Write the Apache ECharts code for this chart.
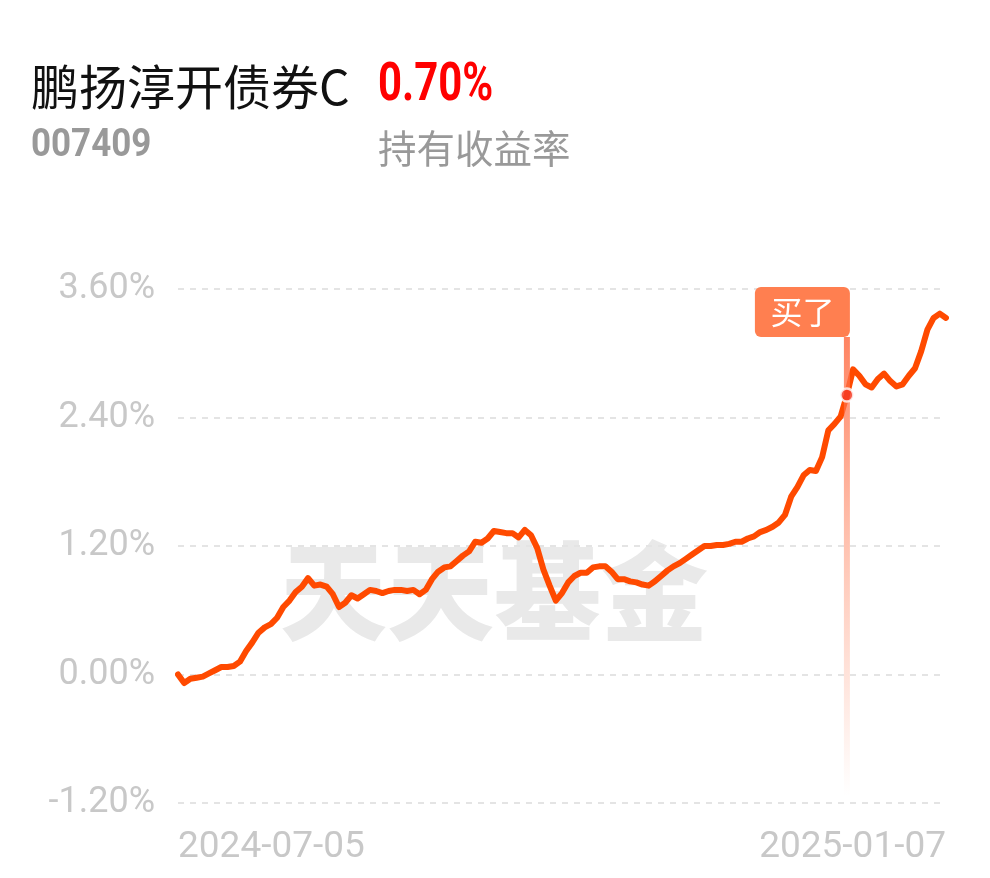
<!DOCTYPE html>
<html><head><meta charset="utf-8">
<script src="https://cdn.jsdelivr.net/npm/echarts@6/dist/echarts.min.js"></script>
<style>html,body{margin:0;padding:0;background:#fff;}#c{width:990px;height:878px;}</style>
</head><body><div id="c"></div>
<script>
const dates = [
 '2024-07-05','2024-07-08','2024-07-09','2024-07-10','2024-07-11','2024-07-12','2024-07-15','2024-07-16','2024-07-17','2024-07-18','2024-07-19','2024-07-22','2024-07-23','2024-07-24','2024-07-25','2024-07-26','2024-07-29','2024-07-30','2024-07-31',
 '2024-08-01','2024-08-02','2024-08-05','2024-08-06','2024-08-07','2024-08-08','2024-08-09','2024-08-12','2024-08-13','2024-08-14','2024-08-15','2024-08-16','2024-08-19','2024-08-20','2024-08-21','2024-08-22','2024-08-23','2024-08-26','2024-08-27','2024-08-28','2024-08-29','2024-08-30',
 '2024-09-02','2024-09-03','2024-09-04','2024-09-05','2024-09-06','2024-09-09','2024-09-10','2024-09-11','2024-09-12','2024-09-13','2024-09-18','2024-09-19','2024-09-20','2024-09-23','2024-09-24','2024-09-25','2024-09-26','2024-09-27','2024-09-30',
 '2024-10-08','2024-10-09','2024-10-10','2024-10-11','2024-10-14','2024-10-15','2024-10-16','2024-10-17','2024-10-18','2024-10-21','2024-10-22','2024-10-23','2024-10-24','2024-10-25','2024-10-28','2024-10-29','2024-10-30','2024-10-31',
 '2024-11-01','2024-11-04','2024-11-05','2024-11-06','2024-11-07','2024-11-08','2024-11-11','2024-11-12','2024-11-13','2024-11-14','2024-11-15','2024-11-18','2024-11-19','2024-11-20','2024-11-21','2024-11-22','2024-11-25','2024-11-26','2024-11-27','2024-11-28','2024-11-29',
 '2024-12-02','2024-12-03','2024-12-04','2024-12-05','2024-12-06','2024-12-09','2024-12-10','2024-12-11','2024-12-12','2024-12-13','2024-12-16','2024-12-17','2024-12-18','2024-12-19','2024-12-20','2024-12-23','2024-12-24','2024-12-25','2024-12-26','2024-12-27','2024-12-30','2024-12-31',
 '2025-01-02','2025-01-03','2025-01-06','2025-01-07'
];
const returns = [
 0.00,-0.08,-0.04,-0.03,-0.02,0.01,0.04,0.07,0.07,0.08,0.12,0.22,0.30,0.39,0.44,0.47,0.53,0.63,0.69,
 0.77,0.82,0.90,0.83,0.84,0.82,0.75,0.63,0.67,0.74,0.71,0.75,0.79,0.78,0.76,0.78,0.79,0.79,0.78,0.79,0.75,0.79,
 0.89,0.96,1.00,1.01,1.06,1.11,1.15,1.24,1.23,1.27,1.34,1.33,1.32,1.32,1.28,1.35,1.30,1.18,0.98,
 0.83,0.69,0.76,0.86,0.92,0.95,0.95,1.00,1.01,1.01,0.96,0.89,0.89,0.87,0.86,0.84,0.83,0.87,
 0.92,0.97,1.01,1.04,1.08,1.12,1.16,1.20,1.20,1.21,1.21,1.22,1.24,1.24,1.27,1.29,1.33,1.35,1.38,1.42,1.49,
 1.66,1.75,1.86,1.91,1.90,2.03,2.28,2.34,2.41,2.61,2.85,2.79,2.71,2.68,2.76,2.81,2.74,2.69,2.71,2.79,2.86,3.02,
 3.22,3.33,3.37,3.33
];
const buyDate = '2024-12-13';
const buyValue = 2.61;
const yMin = -1.2, yMax = 3.6, yStep = 1.2;
const fundName = '鹏扬淳开债券C';
const fundCode = '007409';
const holdReturn = '0.70%';
const holdLabel = '持有收益率';
const buyLabel = '买了';
const watermark = '天天基金';

const chart = echarts.init(document.getElementById('c'));
const lineColor = '#ff4a00';
const option = {
  animation: false,
  backgroundColor: '#fff',
  grid: {left: 178, right: 44, top: 289, bottom: 75, containLabel: false, outerBoundsMode: 'none'},
  graphic: [
    {type:'text', x: 31, y: 87, z: 10, style:{text: fundName, fill:'#111', font:'400 48px "Noto Sans CJK SC"', verticalAlign:'middle'}},
    {type:'text', x: 378, y: 87, scaleX: 0.79, z: 10, style:{text: holdReturn, fill:'#f00', font:'700 53px Roboto', verticalAlign:'middle'}},
    {type:'text', x: 31, y: 146, scaleX: 0.92, z: 10, style:{text: fundCode, fill:'#999', font:'700 38px Roboto', verticalAlign:'middle'}},
    {type:'text', x: 378, y: 148, z: 10, style:{text: holdLabel, fill:'#999', font:'400 38.5px "Noto Sans CJK SC"', verticalAlign:'middle'}},
    {type:'text', x: 494, y: 591, z: -1, style:{text: watermark, fill:'#e9e9e9', font:'900 107px "Noto Sans CJK SC"', align:'center', verticalAlign:'middle'}}
  ],
  xAxis: {
    type: 'category', data: dates, boundaryGap: false,
    axisLine: {show: false}, axisTick: {show: false}, splitLine: {show: false},
    axisLabel: {
      interval: (i) => i === 0 || i === dates.length - 1,
      alignMinLabel: 'left', alignMaxLabel: 'right',
      color: '#c8c8c8', fontSize: 37, fontFamily: 'Roboto', margin: 26
    }
  },
  yAxis: {
    type: 'value', min: yMin, max: yMax, interval: yStep,
    axisLine: {show: false}, axisTick: {show: false},
    axisLabel: {formatter: (v) => v.toFixed(2) + '%', color: '#c8c8c8', fontSize: 36, fontFamily: 'Roboto', margin: 23},
    splitLine: {lineStyle: {color: '#e4e4e4', width: 2, type: [6, 6]}}
  },
  series: [
    {type: 'line', data: returns, symbol: 'none', z: 3,
     lineStyle: {color: lineColor, width: 6, cap: 'round', join: 'round'}},
    {type: 'custom', z: 4, data: [[buyDate, buyValue]],
     renderItem: function (params, api) {
       const p = api.coord([api.value(0), api.value(1)]);
       const topY = api.coord([api.value(0), yMax])[1] - 2;
       const botY = api.coord([api.value(0), yMin])[1] - 7;
       const x = p[0];
       const boxH = 50, boxW = 95;
       return {type: 'group', children: [
         {type: 'rect', shape: {x: x - 3, y: topY + boxH, width: 6, height: botY - topY - boxH},
          style: {fill: new echarts.graphic.LinearGradient(0, 0, 0, 1, [
            {offset: 0, color: 'rgba(255,110,70,0.85)'},
            {offset: 0.45, color: 'rgba(255,120,80,0.45)'},
            {offset: 1, color: 'rgba(255,130,90,0)'}])}},
         {type: 'rect', shape: {x: x + 3 - boxW, y: topY, width: boxW, height: boxH, r: 6},
          style: {fill: '#ff7f50'}},
         {type: 'text', style: {text: buyLabel, x: x + 3 - boxW / 2, y: topY + boxH / 2,
          align: 'center', verticalAlign: 'middle', fill: '#fff', font: '400 32px "Noto Sans CJK SC"'}}
       ]};
     }},
    {type: 'scatter', z: 5, data: [[buyDate, buyValue]], symbolSize: 13,
     itemStyle: {color: '#f5321a', borderColor: '#fff', borderWidth: 2.5}}
  ]
};
chart.setOption(option);
</script></body></html>
